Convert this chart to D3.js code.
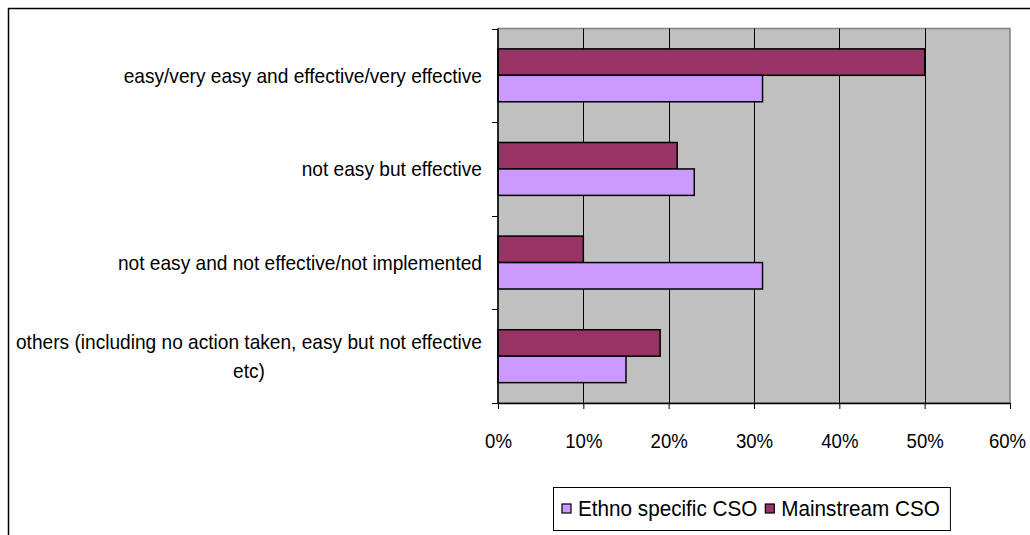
<!DOCTYPE html>
<html>
<head>
<meta charset="utf-8">
<script src="https://cdn.jsdelivr.net/npm/d3@7"></script>
<style>
  html, body { margin: 0; padding: 0; background: #fff; }
  svg { display: block; }
  text { font-family: "Liberation Sans", Arial, sans-serif; fill: #000; }
</style>
</head>
<body>
<svg id="chart" width="1030" height="535"></svg>
<script>
// Response categories (top to bottom); "\n" marks a wrapped line
const categories = [
  "easy/very easy and effective/very effective",
  "not easy but effective",
  "not easy and not effective/not implemented",
  "others (including no action taken, easy but not effective\netc)"
];
// Share of organisations per category, in percent
const mainstreamCSO = [50, 21, 10, 19];
const ethnoSpecificCSO = [31, 23, 31, 15];
const seriesNames = ["Ethno specific CSO", "Mainstream CSO"];
const xTicks = [0, 10, 20, 30, 40, 50, 60];

const colors = { "Ethno specific CSO": "#CC99FF", "Mainstream CSO": "#993366" };
const seriesValues = { "Ethno specific CSO": ethnoSpecificCSO, "Mainstream CSO": mainstreamCSO };

// narrow the glyphs of a text element to a fraction of their natural width
function condense(sel, factor) {
  sel.each(function () {
    const w = this.getComputedTextLength();
    d3.select(this).attr("textLength", w * factor).attr("lengthAdjust", "spacingAndGlyphs");
  });
  return sel;
}

const svg = d3.select("#chart");

// outer chart frame (runs off the right and bottom edges)
svg.append("path")
  .attr("d", "M8.5,535 V8.5 H1030")
  .attr("fill", "none").attr("stroke", "#000").attr("stroke-width", 1.5);

const plot = { left: 498, right: 1010, top: 28.5, bottom: 403 };

const x = d3.scaleLinear().domain([0, 60]).range([plot.left, plot.right]);
const y = d3.scaleBand().domain(categories).range([plot.top, plot.bottom]).padding(0);
// within a category the Mainstream bar sits above the Ethno specific bar
const yInner = d3.scaleBand()
  .domain(["Mainstream CSO", "Ethno specific CSO"])
  .range([0, y.bandwidth()])
  .paddingInner(0).paddingOuter(0.77);

// plot background
svg.append("rect")
  .attr("x", plot.left).attr("y", plot.top)
  .attr("width", plot.right - plot.left).attr("height", plot.bottom - plot.top)
  .attr("fill", "#C0C0C0").attr("stroke", "#808080").attr("stroke-width", 1.5);

// vertical gridlines
svg.append("g").selectAll("line")
  .data(xTicks.filter(t => t > 0 && t < 60))
  .join("line")
  .attr("x1", d => Math.round(x(d)) + 0.5).attr("x2", d => Math.round(x(d)) + 0.5)
  .attr("y1", plot.top).attr("y2", plot.bottom)
  .attr("stroke", "#000").attr("stroke-width", 1);

// bars
const rows = [];
categories.forEach((c, i) => {
  ["Mainstream CSO", "Ethno specific CSO"].forEach(s => {
    rows.push({ cat: c, series: s, value: seriesValues[s][i] });
  });
});
svg.append("g").selectAll("rect")
  .data(rows)
  .join("rect")
  .attr("x", x(0))
  .attr("y", d => y(d.cat) + yInner(d.series))
  .attr("width", d => x(d.value) - x(0))
  .attr("height", yInner.bandwidth())
  .attr("fill", d => colors[d.series])
  .attr("stroke", "#000").attr("stroke-width", 1.5);

// x axis
const xAxis = d3.axisBottom(x)
  .tickValues(xTicks)
  .tickFormat(d => d + "%")
  .tickSize(6).tickSizeOuter(0).tickPadding(25);
const gx = svg.append("g").attr("transform", `translate(0,${plot.bottom})`).call(xAxis);
gx.select(".domain").attr("stroke", "#000").attr("stroke-width", 1.5);
gx.selectAll(".tick line").attr("stroke", "#000");
const tickText = gx.selectAll(".tick text")
  .style("font-size", "20px").attr("font-family", "Liberation Sans, Arial, sans-serif");
condense(tickText, 0.93);
// keep the last label inside the right edge
gx.selectAll(".tick text").filter(d => d === 60).attr("dx", -3);

// y axis: ticks on category boundaries
const boundaries = categories.map(c => y(c)).concat([plot.bottom]);
svg.append("line")
  .attr("x1", plot.left).attr("x2", plot.left)
  .attr("y1", plot.top).attr("y2", plot.bottom)
  .attr("stroke", "#000").attr("stroke-width", 1.5);
svg.append("g").selectAll("line")
  .data(boundaries)
  .join("line")
  .attr("x1", plot.left - 6).attr("x2", plot.left)
  .attr("y1", d => Math.round(d) + 0.5).attr("y2", d => Math.round(d) + 0.5)
  .attr("stroke", "#000");

// category labels: block right-aligned to the axis, wrapped lines centred
const labelRight = 482;
const labelGroup = svg.append("g");
categories.forEach(c => {
  const lines = c.split("\n");
  const cy = y(c) + y.bandwidth() / 2;
  const lineGap = 29;
  const texts = lines.map((ln, i) =>
    labelGroup.append("text")
      .attr("y", cy + (i - (lines.length - 1) / 2) * lineGap)
      .attr("dy", "0.35em")
      .style("font-size", "21px")
      .text(ln));
  texts.forEach(t => condense(t, 0.91));
  const maxW = d3.max(texts, t => +t.attr("textLength"));
  const cx = labelRight - maxW / 2;
  texts.forEach(t => t.attr("x", cx).attr("text-anchor", "middle"));
});

// legend
const legend = svg.append("g");
const lg = { x: 553, y: 487, h: 43 };
const legendBox = legend.append("rect")
  .attr("x", lg.x + 0.5).attr("y", lg.y + 0.5).attr("height", lg.h)
  .attr("fill", "#fff").attr("stroke", "#000").attr("stroke-width", 1);
let cursor = lg.x + 9;
seriesNames.forEach(s => {
  legend.append("rect")
    .attr("x", cursor).attr("y", lg.y + lg.h / 2 - 4.5)
    .attr("width", 9).attr("height", 9)
    .attr("fill", colors[s]).attr("stroke", "#000").attr("stroke-width", 1.2);
  const t = legend.append("text")
    .attr("x", cursor + 16).attr("y", lg.y + lg.h / 2)
    .attr("dy", "0.36em")
    .style("font-size", "22px")
    .text(s);
  condense(t, 0.94);
  cursor += 16 + (+t.attr("textLength")) + 8;
});
legendBox.attr("width", cursor - lg.x + 2);
</script>
</body>
</html>
